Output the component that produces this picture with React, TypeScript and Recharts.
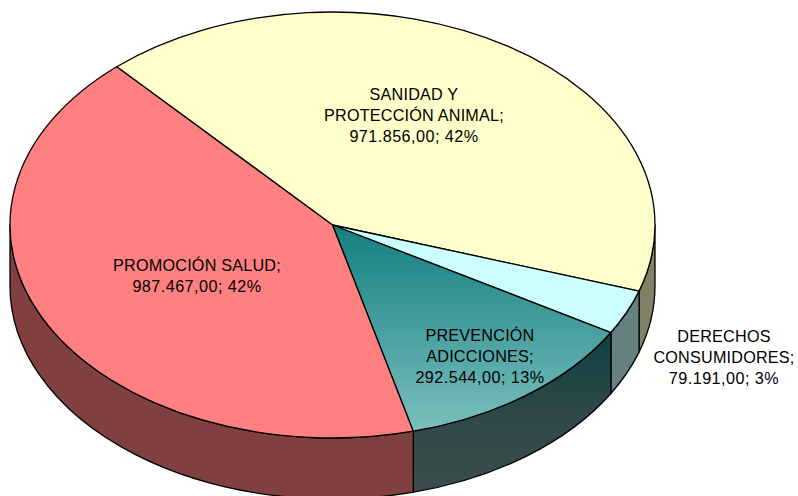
import React from 'react';
import { PieChart, Pie } from 'recharts';

const categories = ['SANIDAD Y PROTECCIÓN ANIMAL', 'DERECHOS CONSUMIDORES', 'PREVENCIÓN ADICCIONES', 'PROMOCIÓN SALUD'];
const amounts = [971856, 79191, 292544, 987467];
const labelLines = [
  ['SANIDAD Y', 'PROTECCIÓN ANIMAL;'],
  ['DERECHOS', 'CONSUMIDORES;'],
  ['PREVENCIÓN', 'ADICCIONES;'],
  ['PROMOCIÓN SALUD;'],
];

const faceFills = ['#FFFFCC', '#CCFFFF', 'url(#faceTeal)', '#FF8080'];
const wallFills = ['#808066', '#668080', 'url(#wallTeal)', '#804040'];
const labelCentres = [
  { x: 414, y: 115 },
  { x: 724, y: 357 },
  { x: 480, y: 355.5 },
  { x: 197, y: 275 },
];

const WIDTH = 798;
const HEIGHT = 496;
const CX = 332.5;
const CY = 225;
const RX = 322.5;
const RY = 213;
const DEPTH = 61;
const FIRST_ANGLE = 90 + 42;

const pieData = categories.map((name, i) => ({ name, value: amounts[i] }));
const total = amounts.reduce((a, b) => a + b, 0);

const money = (v: number) =>
  v.toLocaleString('es-ES', { minimumFractionDigits: 2, maximumFractionDigits: 2, useGrouping: 'always' } as any);

// point on the tilted disc, angle in recharts degrees (ccw from east)
const rimPoint = (deg: number, dy = 0) => {
  const t = (deg * Math.PI) / 180;
  return { x: CX + RX * Math.cos(t), y: CY - RY * Math.sin(t) + dy };
};

const arcTo = (deg: number, large: boolean, sweep: number, dy = 0) => {
  const p = rimPoint(deg, dy);
  return `A ${RX} ${RY} 0 ${large ? 1 : 0} ${sweep} ${p.x} ${p.y}`;
};

const Slice = (props: any) => {
  const i = categories.indexOf(props.name ?? props.payload?.name);
  const { startAngle, endAngle } = props;
  const s = rimPoint(startAngle);
  const face = `M ${CX} ${CY} L ${s.x} ${s.y} ${arcTo(endAngle, startAngle - endAngle > 180, 1)} Z`;

  // only the front half of the rim shows a wall: 180deg to 360deg going ccw, here the angles run clockwise
  const segments: [number, number][] = [];
  for (const k of [0, -1, -2]) {
    const hi = Math.min(startAngle, k * 360);
    const lo = Math.max(endAngle, k * 360 - 180);
    if (hi > lo) segments.push([hi, lo]);
  }

  return (
    <g>
      {segments.map(([hi, lo]) => {
        const a = rimPoint(hi);
        const b = rimPoint(lo, DEPTH);
        const wall = `M ${a.x} ${a.y} ${arcTo(lo, false, 1)} L ${b.x} ${b.y} ${arcTo(hi, false, 0, DEPTH)} Z`;
        return <path key={hi} d={wall} fill={wallFills[i]} stroke="#000" strokeWidth={1.3} strokeLinejoin="round" />;
      })}
      <path d={face} fill={faceFills[i]} stroke="#000" strokeWidth={1.3} strokeLinejoin="round" />
    </g>
  );
};

const SliceLabel = (props: any) => {
  const i = props.index;
  const { x, y } = labelCentres[i];
  const figures = `${money(amounts[i])}; ${Math.round((amounts[i] / total) * 100)}%`;
  const lines = [...labelLines[i], figures];
  const lineHeight = 21;
  const top = y - ((lines.length - 1) * lineHeight) / 2;
  return (
    <text
      x={x}
      y={top}
      textAnchor="middle"
      dominantBaseline="central"
      fontFamily="'Liberation Sans', Arial, sans-serif"
      fontSize={16.2}
      fill="#000"
    >
      {lines.map((line, k) => (
        <tspan key={line} x={x} y={top + k * lineHeight} letterSpacing={line === figures ? 0.45 : 0.2}>
          {line}
        </tspan>
      ))}
    </text>
  );
};

export default function App() {
  return (
    <div style={{ position: 'absolute', left: 0, top: 0, width: WIDTH, height: HEIGHT, background: '#fff' }}>
      <PieChart width={WIDTH} height={HEIGHT} margin={{ top: 0, right: 0, bottom: 0, left: 0 }}>
        <defs>
          <linearGradient id="faceTeal" gradientUnits="userSpaceOnUse" x1="0" y1={CY} x2="0" y2={CY + RY - 6}>
            <stop offset="0%" stopColor="#148080" />
            <stop offset="100%" stopColor="#7ABFBD" />
          </linearGradient>
          <linearGradient id="wallTeal" gradientUnits="userSpaceOnUse" x1="0" y1="332" x2="0" y2="492">
            <stop offset="0%" stopColor="#0C4342" />
            <stop offset="50%" stopColor="#2E4848" />
            <stop offset="100%" stopColor="#3C4C4B" />
          </linearGradient>
        </defs>
        <Pie
          data={pieData}
          dataKey="value"
          nameKey="name"
          cx={CX}
          cy={CY}
          innerRadius={0}
          outerRadius={RX}
          startAngle={FIRST_ANGLE}
          endAngle={FIRST_ANGLE - 360}
          paddingAngle={0}
          shape={Slice}
          label={SliceLabel}
          labelLine={false}
          isAnimationActive={false}
        />
      </PieChart>
    </div>
  );
}
